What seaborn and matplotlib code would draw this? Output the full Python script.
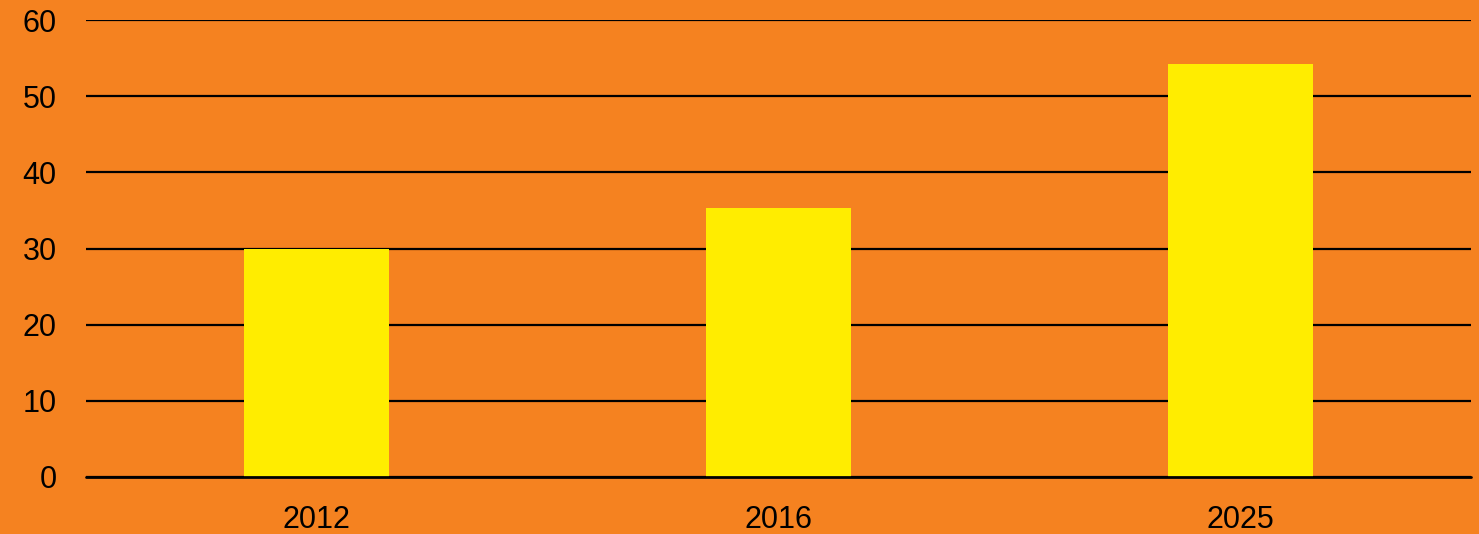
import matplotlib
matplotlib.use("Agg")
import matplotlib.pyplot as plt
import seaborn as sns
import pandas as pd

years = ["2012", "2016", "2025"]
values = [30, 35.3, 54.2]

df = pd.DataFrame({"year": years, "value": values})

sns.set_style("white")
plt.rcParams['font.family'] = ['Liberation Sans', 'DejaVu Sans']

bg = "#F58220"
fig = plt.figure(figsize=(14.79, 5.34), dpi=100, facecolor=bg)
ax = fig.add_axes([86/1479, 1 - 477/534, (1471 - 86)/1479, (477 - 20)/534])
ax.set_facecolor(bg)

sns.barplot(data=df, x="year", y="value", color="#FFED00", width=0.314,
            saturation=1, linewidth=0, ax=ax, zorder=3)

ax.set_xlim(-0.5, 2.5)
ax.set_ylim(0, 60)
ax.set_yticks(range(0, 61, 10))
ax.yaxis.grid(True, color="black", linewidth=1.6, zorder=0)
ax.set_axisbelow(True)
ax.axhline(0, color="black", linewidth=2, zorder=4, clip_on=False)
for s in ax.spines.values():
    s.set_visible(False)
ax.tick_params(axis="both", length=0, labelsize=22, colors="black")
ax.tick_params(axis="y", pad=21)
ax.tick_params(axis="x", pad=20.5)
ax.set_xlabel("")
ax.set_ylabel("")

fig.savefig("out.png", dpi=100, facecolor=bg)
